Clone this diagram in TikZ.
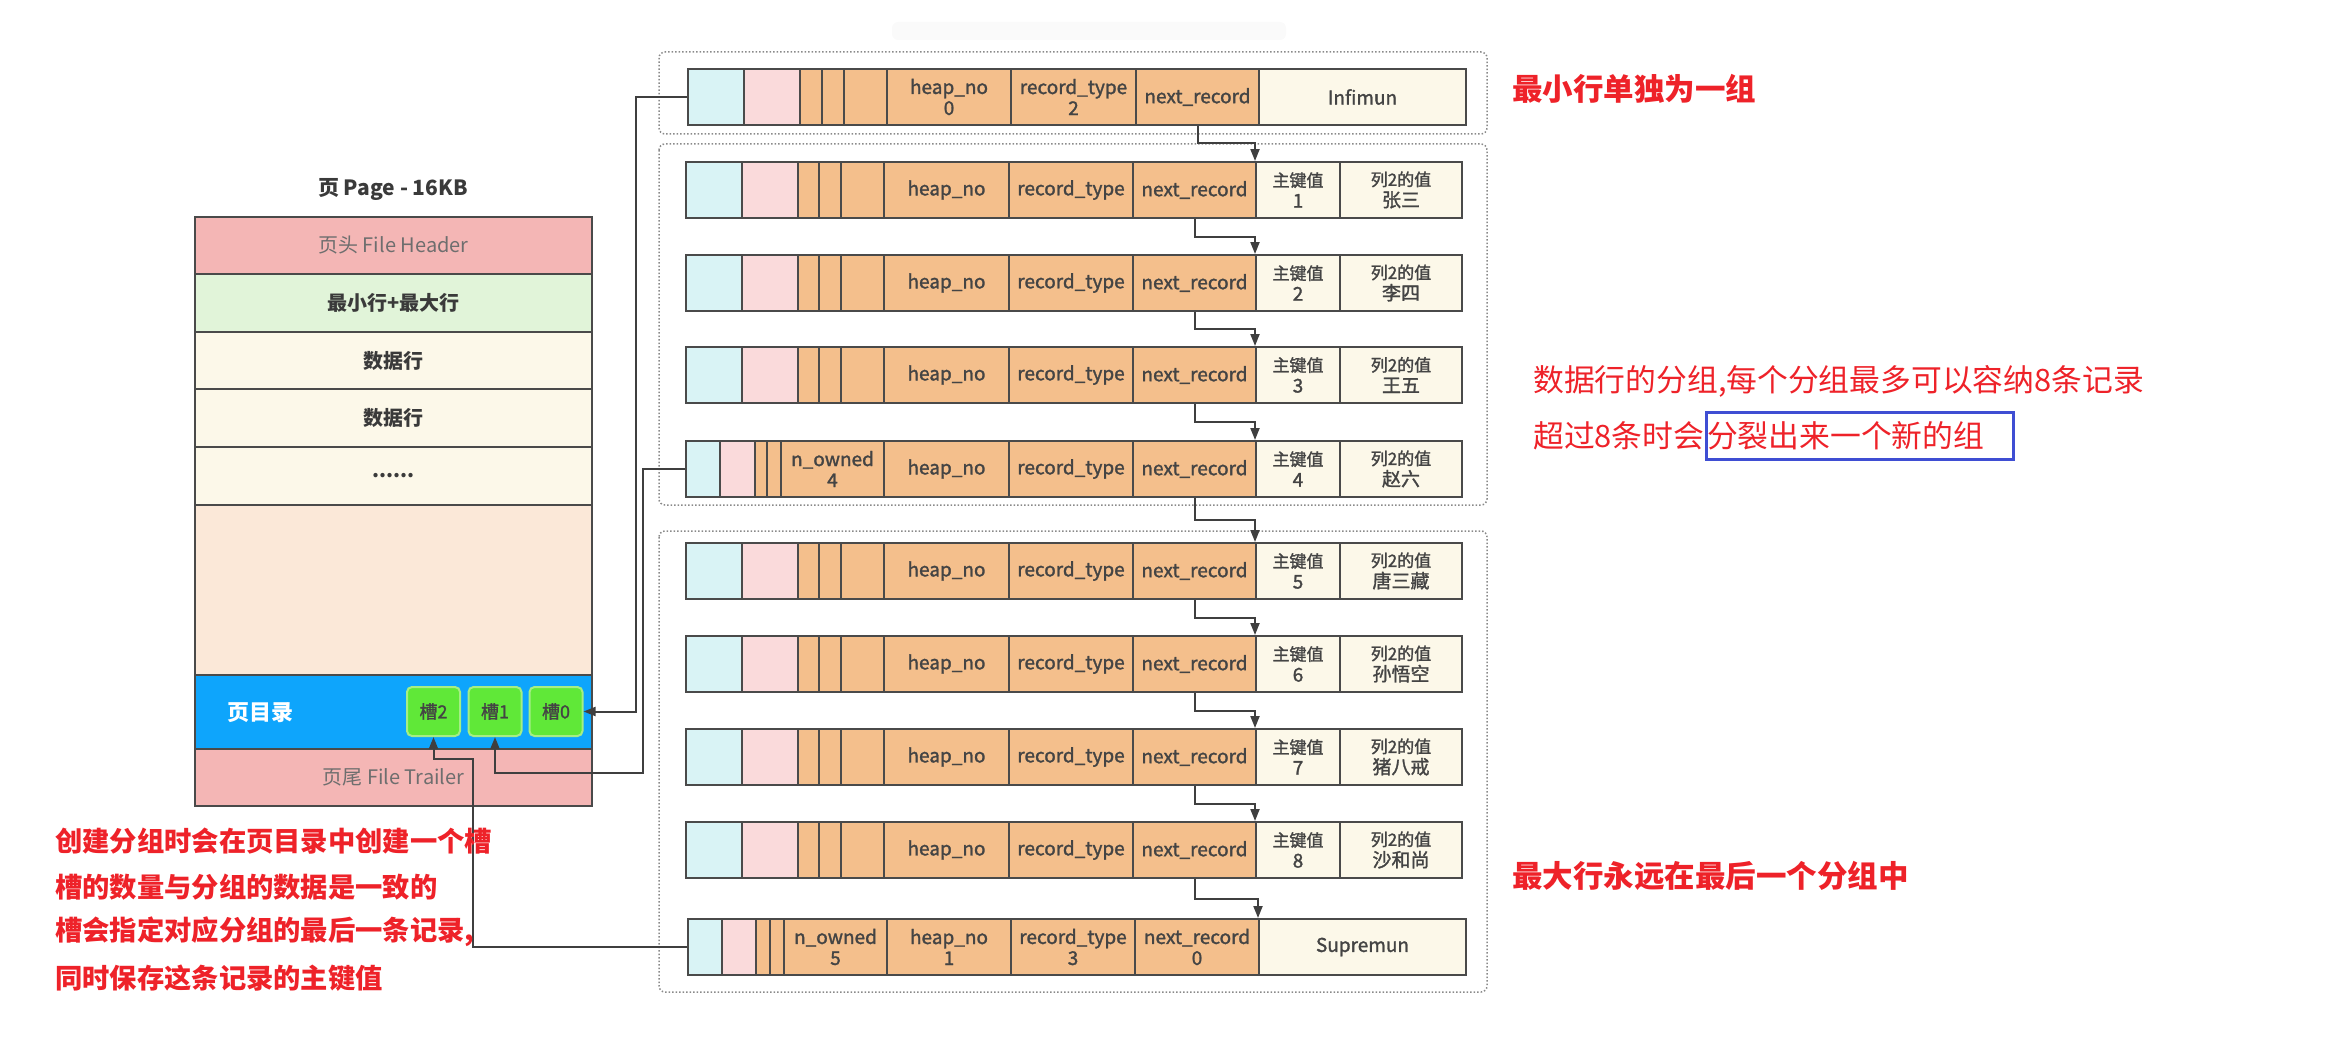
\documentclass[tikz,border=0pt]{standalone}
\usepackage{fontspec}
\setmainfont{Noto Sans CJK SC}
\newfontfamily\cellfont[FakeBold=1.5]{Noto Sans CJK SC}
\usetikzlibrary{arrows.meta,calc}
\definecolor{cellcyan}{HTML}{D9F3F5}
\definecolor{cellpink}{HTML}{FADADB}
\definecolor{cellorange}{HTML}{F4BF8C}
\definecolor{cellcream}{HTML}{FCF8E9}
\definecolor{borderc}{HTML}{4A4A4A}
\definecolor{pgheader}{HTML}{F4B6B5}
\definecolor{pggreen}{HTML}{E1F4D9}
\definecolor{pgdata}{HTML}{FCF8E9}
\definecolor{pgpeach}{HTML}{FBE8D8}
\definecolor{pgblue}{HTML}{0EA5FC}
\definecolor{slotgreen}{HTML}{60E838}
\definecolor{slotborder}{HTML}{A5EE85}
\definecolor{redtxt}{HTML}{EE2229}
\definecolor{bluec}{HTML}{3F4ED3}
\definecolor{textdark}{HTML}{3A3A3A}
\definecolor{textcell}{HTML}{444444}
\definecolor{textgray}{HTML}{6E6E6E}
\definecolor{linec}{HTML}{3F3F3F}
\definecolor{grpc}{HTML}{8A8A8A}
\newcommand\cellat[6]{%
  \node[cellbox, fill=#5, minimum width={(#3-#2)*1pt}] (#1) at ({(#2+#3)/2},#4) {#6};}
\newcommand\pkf{\fontsize{17}{20}\selectfont}
\newcommand\normrec[4]{%
  \cellat{#1c}{686}{742}{#2}{cellcyan}{}
  \cellat{#1p}{742}{798}{#2}{cellpink}{}
  \cellat{#1sa}{798}{819}{#2}{cellorange}{}
  \cellat{#1sb}{819}{841}{#2}{cellorange}{}
  \cellat{#1sc}{841}{884}{#2}{cellorange}{}
  \cellat{#1h}{884}{1009}{#2}{cellorange}{heap\_no}
  \cellat{#1t}{1009}{1133}{#2}{cellorange}{record\_type}
  \cellat{#1n}{1133}{1256}{#2}{cellorange}{next\_record}
  \cellat{#1k}{1256}{1340}{#2}{cellcream}{\pkf 主键值\\#3}
  \cellat{#1v}{1340}{1462}{#2}{cellcream}{\pkf 列2的值\\#4}}
\tikzset{
  cellbox/.style={draw=borderc, line width=2pt, inner sep=0pt, minimum height=56pt,
    text=textcell, align=center, font=\cellfont\fontsize{19}{21}\selectfont},
  pgrow/.style={draw=borderc, line width=2pt, inner sep=0pt, minimum width=397pt,
    font=\fontsize{20}{24}\selectfont},
  slotbox/.style={draw=slotborder, fill=slotgreen, line width=2pt, rounded corners=5pt,
    minimum width=53pt, minimum height=49pt, inner sep=0pt, text=textcell,
    font=\cellfont\fontsize{18}{20}\selectfont},
  conn/.style={draw=linec, line width=2pt},
  arr/.style={-{Triangle[length=12pt,width=9pt]}},
  grp/.style={draw=grpc, line width=1.5pt, dash pattern=on 1.5pt off 2pt, rounded corners=6pt},
  redlbl/.style={text=redtxt, anchor=west, inner sep=0pt},
}
\begin{document}
\begin{tikzpicture}[x=1pt,y=-1pt]
\useasboundingbox (0,0) rectangle (2331,1038);
% faint top shape
\fill[black!2, rounded corners=6pt] (892,22) rectangle (1286,40);
% page
\node[font=\bfseries\fontsize{21}{24}\selectfont, text=textdark] (pgtitle) at (393,189) {页 Page - 16KB};
\node[pgrow, fill=pgheader, minimum height=57pt, text=textgray] (pghead) at (393.5,245.5) {页头 File Header};
\node[pgrow, fill=pggreen, minimum height=58pt, text=textdark, font=\bfseries\fontsize{20}{24}\selectfont] (pgmm) at (393.5,303) {最小行+最大行};
\node[pgrow, fill=pgdata, minimum height=57pt, text=textdark, font=\bfseries\fontsize{20}{24}\selectfont] (pgd1) at (393.5,360.5) {数据行};
\node[pgrow, fill=pgdata, minimum height=58pt, text=textdark, font=\bfseries\fontsize{20}{24}\selectfont] (pgd2) at (393.5,418) {数据行};
\node[pgrow, fill=pgdata, minimum height=58pt, text=textdark, font=\bfseries\fontsize{20}{24}\selectfont] (pgdots) at (393.5,476) {......};
\node[pgrow, fill=pgpeach, minimum height=170pt] (pgfree) at (393.5,590) {};
\node[pgrow, fill=pgblue, minimum height=74pt] (pgdir) at (393.5,712) {};
\node[pgrow, fill=pgheader, minimum height=57pt, text=textgray] (pgtrail) at (393.5,777.5) {页尾 File Trailer};
\node[text=white, font=\bfseries\fontsize{22}{24}\selectfont, inner sep=0pt] (dirlbl) at (260,713) {页目录};
\node[slotbox] (slot2) at (433.5,711.5) {槽2};
\node[slotbox] (slot1) at (495,711.5) {槽1};
\node[slotbox] (slot0) at (556,711.5) {槽0};
% groups
\draw[grp] (659,52) rectangle (1487,134);
\draw[grp] (659,144) rectangle (1487,505);
\draw[grp] (659,531) rectangle (1487,992);
% Infimum record
\cellat{infc}{688}{744}{97}{cellcyan}{}
\cellat{infp}{744}{800}{97}{cellpink}{}
\cellat{infsa}{800}{822}{97}{cellorange}{}
\cellat{infsb}{822}{844}{97}{cellorange}{}
\cellat{infsc}{844}{887}{97}{cellorange}{}
\cellat{infh}{887}{1011}{97}{cellorange}{heap\_no\\0}
\cellat{inft}{1011}{1136}{97}{cellorange}{record\_type\\2}
\cellat{infn}{1136}{1259}{97}{cellorange}{next\_record}
\cellat{infv}{1259}{1466}{97}{cellcream}{Infimun}
% group 2
\normrec{ra}{190}{1}{张三}
\normrec{rb}{283}{2}{李四}
\normrec{rc}{375}{3}{王五}
\cellat{rdc}{686}{720}{469}{cellcyan}{}
\cellat{rdp}{720}{755}{469}{cellpink}{}
\cellat{rdsa}{755}{767}{469}{cellorange}{}
\cellat{rdsb}{767}{781}{469}{cellorange}{}
\cellat{rdo}{781}{884}{469}{cellorange}{n\_owned\\4}
\cellat{rdh}{884}{1009}{469}{cellorange}{heap\_no}
\cellat{rdt}{1009}{1133}{469}{cellorange}{record\_type}
\cellat{rdn}{1133}{1256}{469}{cellorange}{next\_record}
\cellat{rdk}{1256}{1340}{469}{cellcream}{\pkf 主键值\\4}
\cellat{rdv}{1340}{1462}{469}{cellcream}{\pkf 列2的值\\赵六}
% group 3
\normrec{re}{571}{5}{唐三藏}
\normrec{rf}{664}{6}{孙悟空}
\normrec{rg}{757}{7}{猪八戒}
\normrec{rh}{850}{8}{沙和尚}
\cellat{supc}{688}{722}{947}{cellcyan}{}
\cellat{supp}{722}{756}{947}{cellpink}{}
\cellat{supsa}{756}{770}{947}{cellorange}{}
\cellat{supsb}{770}{784}{947}{cellorange}{}
\cellat{supo}{784}{887}{947}{cellorange}{n\_owned\\5}
\cellat{suph}{887}{1011}{947}{cellorange}{heap\_no\\1}
\cellat{supt}{1011}{1135}{947}{cellorange}{record\_type\\3}
\cellat{supn}{1135}{1259}{947}{cellorange}{next\_record\\0}
\cellat{supv}{1259}{1466}{947}{cellcream}{Supremun}
% next_record links
\foreach \a/\b in {infn/rak, ran/rbk, rbn/rck, rcn/rdk, rdn/rek, ren/rfk, rfn/rgk, rgn/rhk, rhn/supv}{
  \draw[conn,arr] (\a.south) |- ($(\a.south)!.5!(\b.north west)$) -| (\b.north west);
}
% slot links
\draw[conn,arr] (infc.west) -- ++(-51,0) |- (slot0.east);
\draw[conn,arr] (rdc.west) -- ++(-42,0) |- ($(slot1.south)+(0,36)$) -- (slot1.south);
\draw[conn,arr] (supc.west) -| ($(slot2.south)+(39,22)$) -| (slot2.south);
% annotations
\node[redlbl, font=\bfseries\fontsize{30.5}{32}\selectfont] (lblmin) at (1512,89) {最小行单独为一组};
\node[redlbl, font=\fontsize{30.8}{32}\selectfont] (lblgrpa) at (1533,381) {数据行的分组,每个分组最多可以容纳8条记录};
\node[redlbl, font=\fontsize{30.8}{32}\selectfont] (lblgrpb) at (1533,436) {超过8条时会};
\node[redlbl, font=\fontsize{30.8}{32}\selectfont, draw=bluec, line width=3pt, inner xsep=1pt, minimum height=47pt] (lblsplit) at (lblgrpb.east) {\makebox[305pt][l]{分裂出来一个新的组}};
\node[redlbl, font=\bfseries\fontsize{30.5}{32}\selectfont] (lblmax) at (1512,876) {最大行永远在最后一个分组中};
\node[redlbl, font=\bfseries\fontsize{27.3}{30}\selectfont] (lslota) at (55,841) {创建分组时会在页目录中创建一个槽};
\node[redlbl, font=\bfseries\fontsize{27.3}{30}\selectfont] (lslotb) at (55,887) {槽的数量与分组的数据是一致的};
\node[redlbl, font=\bfseries\fontsize{27.3}{30}\selectfont] (lslotc) at (55,932) {槽会指定对应分组的最后一条记录,};
\node[redlbl, font=\bfseries\fontsize{27.3}{30}\selectfont] (lslotd) at (55,978) {同时保存这条记录的主键值};
\end{tikzpicture}
\end{document}
